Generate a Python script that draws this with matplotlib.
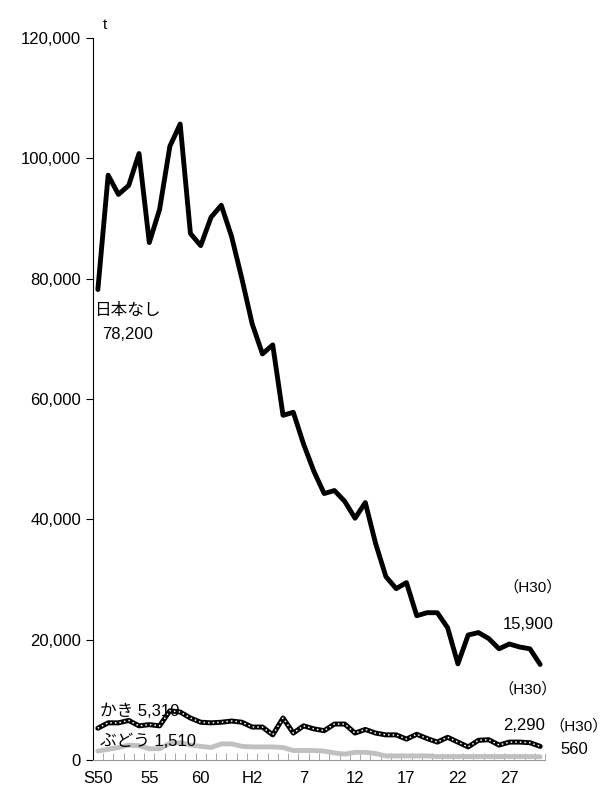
import matplotlib
matplotlib.use("Agg")
import matplotlib.pyplot as plt

plt.rcParams['font.family'] = ['Liberation Sans', 'Noto Sans CJK JP']

years = list(range(1975, 2019))
nashi = [78200, 97200, 94000, 95500, 100800, 86000, 91500, 102000, 105700, 87500,
         85500, 90200, 92200, 87000, 80000, 72500, 67500, 69000, 57300, 57800,
         52500, 48000, 44300, 44800, 43000, 40200, 42800, 36000, 30500, 28500,
         29500, 24000, 24500, 24500, 22000, 16000, 20800, 21200, 20200, 18500,
         19300, 18800, 18500, 15900]
kaki = [5310, 6200, 6200, 6600, 5700, 5900, 5700, 8200, 8000, 7000,
        6300, 6200, 6300, 6500, 6300, 5500, 5500, 4200, 7000, 4500,
        5700, 5200, 4900, 6000, 6000, 4500, 5100, 4500, 4200, 4200,
        3500, 4300, 3600, 3000, 3800, 3000, 2200, 3300, 3400, 2500,
        3000, 3000, 2900, 2290]
budou = [1510, 1800, 2100, 2500, 2400, 1900, 1900, 2800, 2900, 2500,
         2300, 2100, 2700, 2700, 2300, 2200, 2200, 2200, 2100, 1600,
         1600, 1600, 1500, 1200, 1000, 1300, 1300, 1100, 700, 700,
         700, 700, 700, 600, 600, 600, 600, 600, 600, 600,
         600, 600, 600, 560]
tick_years = [1975, 1980, 1985, 1990, 1995, 2000, 2005, 2010, 2015]
tick_labels = ['S50', '55', '60', 'H2', '7', '12', '17', '22', '27']

fig = plt.figure(figsize=(6.10, 7.91), dpi=100)
ax = fig.add_axes([0.152, 0.039, 0.742, 0.913])

ax.plot(years, budou, color='#c0c0c0', lw=3.5, solid_capstyle='round')
ax.plot(years, kaki, color='black', lw=3.6, solid_capstyle='round')
ax.plot(years, kaki, color='white', lw=1.1, ls=(0, (1, 2)))
ax.plot(years, nashi, color='black', lw=3.5, solid_capstyle='round')

ax.set_xlim(1974.5, 2018.5)
ax.set_ylim(0, 120000)
ax.set_yticks(range(0, 120001, 20000))
ax.set_yticklabels([f'{v:,}' for v in range(0, 120001, 20000)], fontsize=12)
ax.set_xticks(tick_years)
ax.set_xticklabels(tick_labels, fontsize=12)
ax.set_xticks([y + 0.5 for y in range(1974, 2019)], minor=True)
ax.tick_params(axis='x', which='major', length=0, pad=8)
ax.tick_params(axis='x', which='minor', direction='in', length=5, color='#999999')
ax.tick_params(axis='y', direction='out', length=5)
for s in ['top', 'right']:
    ax.spines[s].set_visible(False)
ax.spines['bottom'].set_color('#999999')

ax.text(1975.5, 121500, 't', fontsize=11)
ax.text(1974.6, 74000, '日本なし', fontsize=12)
ax.text(1975.4, 70000, '78,200', fontsize=12)
ax.text(2014.4, 28000, '（H30）', fontsize=11)
ax.text(2014.4, 21800, '15,900', fontsize=12)
ax.text(2013.9, 11000, '（H30）', fontsize=11)
ax.text(2014.4, 5000, '2,290', fontsize=12)
ax.text(2018.9, 5000, '（H30）', fontsize=11, clip_on=False)
ax.text(2020.0, 1000, '560', fontsize=12, clip_on=False)
ax.text(1975.2, 7400, 'かき 5,310', fontsize=12)
ax.text(1975.2, 2400, 'ぶどう 1,510', fontsize=12)

fig.savefig('out.png', dpi=100)
